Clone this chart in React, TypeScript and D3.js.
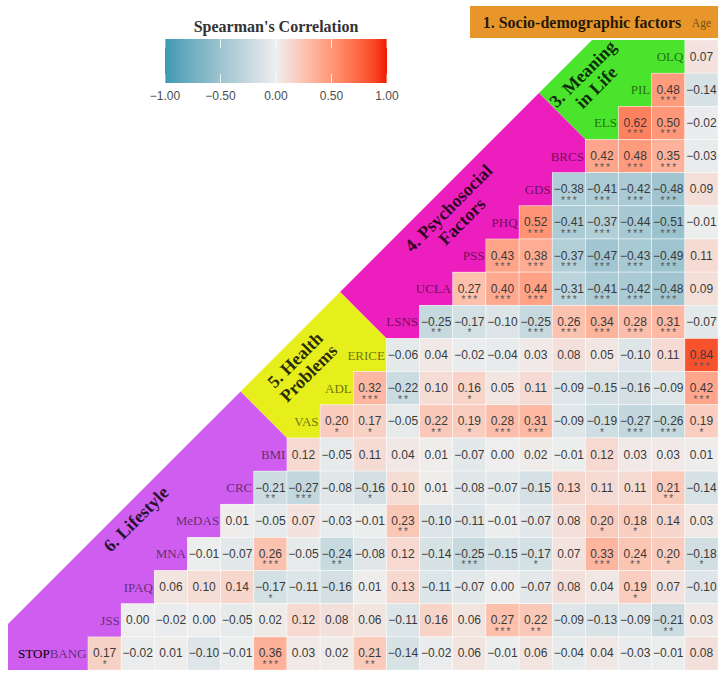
import React from 'react';
import * as d3 from 'd3';

// column order (left to right); Age is the last column
const variables = ['STOPBANG', 'JSS', 'IPAQ', 'MNA', 'MeDAS', 'CRC', 'BMI', 'VAS', 'ADL', 'ERICE',
  'LSNS', 'UCLA', 'PSS', 'PHQ', 'GDS', 'BRCS', 'ELS', 'PIL', 'OLQ', 'Age'];

// each row holds the correlations with the variables to its right, and the number of stars
const rOLQ = [0.07];
const sOLQ = [0];
const rPIL = [0.48, -0.14];
const sPIL = [3, 0];
const rELS = [0.62, 0.50, -0.02];
const sELS = [3, 3, 0];
const rBRCS = [0.42, 0.48, 0.35, -0.03];
const sBRCS = [3, 3, 3, 0];
const rGDS = [-0.38, -0.41, -0.42, -0.48, 0.09];
const sGDS = [3, 3, 3, 3, 0];
const rPHQ = [0.52, -0.41, -0.37, -0.44, -0.51, -0.01];
const sPHQ = [3, 3, 3, 3, 3, 0];
const rPSS = [0.43, 0.38, -0.37, -0.47, -0.43, -0.49, 0.11];
const sPSS = [3, 3, 3, 3, 3, 3, 0];
const rUCLA = [0.27, 0.40, 0.44, -0.31, -0.41, -0.42, -0.48, 0.09];
const sUCLA = [3, 3, 3, 3, 3, 3, 3, 0];
const rLSNS = [-0.25, -0.17, -0.10, -0.25, 0.26, 0.34, 0.28, 0.31, -0.07];
const sLSNS = [2, 1, 0, 3, 3, 3, 3, 3, 0];
const rERICE = [-0.06, 0.04, -0.02, -0.04, 0.03, 0.08, 0.05, -0.10, 0.11, 0.84];
const sERICE = [0, 0, 0, 0, 0, 0, 0, 0, 0, 3];
const rADL = [0.32, -0.22, 0.10, 0.16, 0.05, 0.11, -0.09, -0.15, -0.16, -0.09, 0.42];
const sADL = [3, 2, 0, 1, 0, 0, 0, 0, 0, 0, 3];
const rVAS = [0.20, 0.17, -0.05, 0.22, 0.19, 0.28, 0.31, -0.09, -0.19, -0.27, -0.26, 0.19];
const sVAS = [1, 1, 0, 2, 1, 3, 3, 0, 1, 3, 3, 1];
const rBMI = [0.12, -0.05, 0.11, 0.04, 0.01, -0.07, 0.00, 0.02, -0.01, 0.12, 0.03, 0.03, 0.01];
const sBMI = [0, 0, 0, 0, 0, 0, 0, 0, 0, 0, 0, 0, 0];
const rCRC = [-0.21, -0.27, -0.08, -0.16, 0.10, 0.01, -0.08, -0.07, -0.15, 0.13, 0.11, 0.11, 0.21, -0.14];
const sCRC = [2, 3, 0, 1, 0, 0, 0, 0, 0, 0, 0, 0, 2, 0];
const rMeDAS = [0.01, -0.05, 0.07, -0.03, -0.01, 0.23, -0.10, -0.11, -0.01, -0.07, 0.08, 0.20, 0.18, 0.14, 0.03];
const sMeDAS = [0, 0, 0, 0, 0, 2, 0, 0, 0, 0, 0, 1, 1, 0, 0];
const rMNA = [-0.01, -0.07, 0.26, -0.05, -0.24, -0.08, 0.12, -0.14, -0.25, -0.15, -0.17, 0.07, 0.33, 0.24, 0.20, -0.18];
const sMNA = [0, 0, 3, 0, 2, 0, 0, 0, 3, 0, 1, 0, 3, 2, 1, 1];
const rIPAQ = [0.06, 0.10, 0.14, -0.17, -0.11, -0.16, 0.01, 0.13, -0.11, -0.07, 0.00, -0.07, 0.08, 0.04, 0.19, 0.07, -0.10];
const sIPAQ = [0, 0, 0, 1, 0, 0, 0, 0, 0, 0, 0, 0, 0, 0, 1, 0, 0];
const rJSS = [0.00, -0.02, 0.00, -0.05, 0.02, 0.12, 0.08, 0.06, -0.11, 0.16, 0.06, 0.27, 0.22, -0.09, -0.13, -0.09, -0.21, 0.03];
const sJSS = [0, 0, 0, 0, 0, 0, 0, 0, 0, 0, 0, 3, 2, 0, 0, 0, 2, 0];
const rSTOPBANG = [0.17, -0.02, 0.01, -0.10, -0.01, 0.36, 0.03, 0.02, 0.21, -0.14, -0.02, 0.06, -0.01, 0.06, -0.04, 0.04, -0.03, -0.01, 0.08];
const sSTOPBANG = [1, 0, 0, 0, 0, 3, 0, 0, 2, 0, 0, 0, 0, 0, 0, 0, 0, 0, 0];

const rows = [
  { name: 'OLQ', r: rOLQ, s: sOLQ }, { name: 'PIL', r: rPIL, s: sPIL }, { name: 'ELS', r: rELS, s: sELS },
  { name: 'BRCS', r: rBRCS, s: sBRCS }, { name: 'GDS', r: rGDS, s: sGDS }, { name: 'PHQ', r: rPHQ, s: sPHQ },
  { name: 'PSS', r: rPSS, s: sPSS }, { name: 'UCLA', r: rUCLA, s: sUCLA }, { name: 'LSNS', r: rLSNS, s: sLSNS },
  { name: 'ERICE', r: rERICE, s: sERICE }, { name: 'ADL', r: rADL, s: sADL }, { name: 'VAS', r: rVAS, s: sVAS },
  { name: 'BMI', r: rBMI, s: sBMI }, { name: 'CRC', r: rCRC, s: sCRC }, { name: 'MeDAS', r: rMeDAS, s: sMeDAS },
  { name: 'MNA', r: rMNA, s: sMNA }, { name: 'IPAQ', r: rIPAQ, s: sIPAQ }, { name: 'JSS', r: rJSS, s: sJSS },
  { name: 'STOPBANG', r: rSTOPBANG, s: sSTOPBANG },
];

// factor groups: first and last row index
const groupLabels = [['3. Meaning', 'in Life'], ['4. Psychosocial', 'Factors'], ['5. Health', 'Problems'], ['6. Lifestyle']];
const groupFirst = [0, 3, 9, 12];
const groupLast = [2, 8, 11, 18];
const groupColors = ['#4AE42C', '#EC1EBE', '#E6EE1C', '#CF5EF0'];
// label centre in grid units (along / across the diagonal)
const groupSum = [17.35, 17.35, 17.3, 16.9];
const groupDiff = [14.9, 6.8, -2.4, -12];

const legendTicks = [-1, -0.5, 0, 0.5, 1];

const W = 727;
const H = 678;
const cell = 33.16;
const gridLeft = 54.84;
const gridTop = 40;
const D = 16.2; // diagonal edge of the coloured band: gx + gy = D

const App = () => {
  const x = d3.scaleLinear().domain([0, 20]).range([gridLeft, gridLeft + 20 * cell]);
  const y = d3.scaleLinear().domain([0, 19]).range([gridTop, gridTop + 19 * cell]);
  const color = d3.scaleLinear<string>().domain([-1, 0, 1]).range(['#3B9AB2', '#EEEEEE', '#F21A00'])
    .interpolate(d3.interpolateLab);
  const fmt = d3.format('.2f');

  const bandPoints = (r1: number, r2: number) => {
    const pts: [number, number][] = [];
    pts.push(r1 === 0 ? [D, 0] : [(D + 19 - 2 * r1) / 2, (D - 19 + 2 * r1) / 2]);
    for (let r = r1; r <= r2; r++) {
      pts.push([19 - r, r]);
      pts.push([19 - r, r + 1]);
    }
    pts.push([18 - r2, r2 + 1]);
    pts.push(r2 === 18 ? [D - 19, 19] : [(D + 17 - 2 * r2) / 2, (D - 17 + 2 * r2) / 2]);
    return pts;
  };
  const line = d3.line<[number, number]>().x(d => x(d[0])).y(d => y(d[1]));

  const legendX = d3.scaleLinear().domain([-1, 1]).range([165, 387]);
  const legendTop = 39;
  const legendH = 44;

  return (
    <svg width={W} height={H} style={{ position: 'absolute', left: 0, top: 0, background: '#fff' }}>
      <defs>
        <clipPath id="bandClip">
          <rect x={8} y={0} width={W} height={H} />
        </clipPath>
        <linearGradient id="legendGrad" x1="0" x2="1" y1="0" y2="0">
          {d3.range(0, 1.0001, 0.05).map(t => (
            <stop key={t} offset={t} stopColor={color(-1 + 2 * t)} />
          ))}
        </linearGradient>
      </defs>

      {/* legend */}
      <text x={legendX(0)} y={32} textAnchor="middle" fontFamily="Liberation Serif" fontWeight="bold"
        fontSize={16} fill="#333">Spearman's Correlation</text>
      <rect x={legendX(-1)} y={legendTop} width={legendX(1) - legendX(-1)} height={legendH} fill="url(#legendGrad)" />
      {legendTicks.map(t => (
        <g key={t}>
          <line x1={legendX(t)} x2={legendX(t)} y1={legendTop} y2={legendTop + 9} stroke="#fff" strokeOpacity={0.8} />
          <line x1={legendX(t)} x2={legendX(t)} y1={legendTop + legendH - 9} y2={legendTop + legendH} stroke="#fff" strokeOpacity={0.8} />
          <text x={legendX(t)} y={100} textAnchor="middle" fontFamily="Liberation Sans" fontSize={12} fill="#4d4d4d">
            {fmt(t)}
          </text>
        </g>
      ))}

      {/* socio-demographic header */}
      <rect x={470} y={6} width={x(20) - 470} height={32} fill="#E8962A" />
      <text x={582} y={28} textAnchor="middle" fontFamily="Liberation Serif" fontWeight="bold" fontSize={16}
        fill="#000" fillOpacity={0.85}>1. Socio-demographic factors</text>
      <text x={(x(19) + x(20)) / 2} y={27} textAnchor="middle" fontFamily="Liberation Serif" fontSize={11.5}
        fill="#000" fillOpacity={0.55}>Age</text>

      {/* coloured factor bands */}
      <g clipPath="url(#bandClip)">
        {groupFirst.map((r1, i) => (
          <path key={i} d={line(bandPoints(r1, groupLast[i])) + 'Z'} fill={groupColors[i]} />
        ))}
      </g>
      {groupLabels.map((lines, i) => {
        const gx = (groupSum[i] + groupDiff[i]) / 2;
        const gy = (groupSum[i] - groupDiff[i]) / 2;
        const off = (lines.length - 1) * 9.5;
        return (
          <text key={i} transform={`translate(${x(gx)},${y(gy)}) rotate(-45)`} textAnchor="middle"
            fontFamily="Liberation Serif" fontWeight="bold" fontSize={18} fill="#000" fillOpacity={0.82}>
            {lines.map((l, j) => (
              <tspan key={j} x={0} y={-off + j * 19} dominantBaseline="central">{l}</tspan>
            ))}
          </text>
        );
      })}

      {/* correlation cells */}
      {rows.map((row, ri) => {
        const v = 18 - ri;
        const cy = y(ri + 0.5);
        return (
          <g key={row.name}>
            {row.r.map((val, k) => {
              const col = v + 1 + k;
              return (
                <g key={k}>
                  <rect x={x(col)} y={y(ri)} width={x(col + 1) - x(col)} height={y(ri + 1) - y(ri)}
                    fill={color(val)} stroke="#fff" strokeWidth={0.6} strokeOpacity={0.7} />
                  <text x={(x(col) + x(col + 1)) / 2} y={cy} textAnchor="middle" dominantBaseline="central"
                    fontFamily="Liberation Sans" fontSize={12} fill="#3a3a3a">{fmt(val)}</text>
                  {row.s[k] > 0 && (
                    <text x={(x(col) + x(col + 1)) / 2 + 1} y={cy + 14.5} textAnchor="middle"
                      fontFamily="Liberation Sans" fontSize={10} letterSpacing={2} fill="#555">
                      {'*'.repeat(row.s[k])}
                    </text>
                  )}
                </g>
              );
            })}
            <text x={x(v + 1) - 1.5} y={cy} textAnchor="end" dominantBaseline="central"
              fontFamily="Liberation Serif" fontSize={13} fill="#000" fillOpacity={0.55}>
              {row.name === 'STOPBANG'
                ? [<tspan key="a" fillOpacity={1}>STOP</tspan>, <tspan key="b">BANG</tspan>]
                : row.name}
            </text>
          </g>
        );
      })}
    </svg>
  );
};

export default App;
